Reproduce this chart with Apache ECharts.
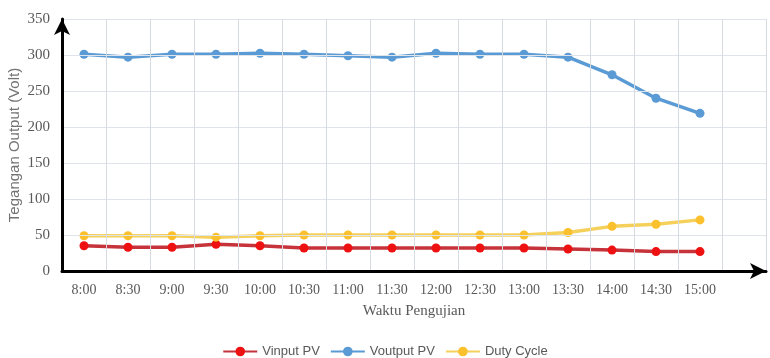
<!DOCTYPE html>
<html>
<head>
<meta charset="utf-8">
<script src="https://cdn.jsdelivr.net/npm/echarts@6/dist/echarts.min.js"></script>
<style>
  html, body { margin: 0; padding: 0; background: #fff; }
  #chart { width: 770px; height: 358px; }
</style>
</head>
<body>
<div id="chart"></div>
<script>
// Measurement times (the trailing blank slot leaves room before the arrow)
const times = ['8:00', '8:30', '9:00', '9:30', '10:00', '10:30', '11:00', '11:30',
               '12:00', '12:30', '13:00', '13:30', '14:00', '14:30', '15:00', ''];

// Measured values per time slot
const vinputPV = [35, 33, 33, 37, 35, 32, 32, 32, 32, 32, 32, 30.5, 29, 27, 27];
const voutputPV = [301, 297, 301, 301, 302.5, 301, 299, 297, 302.5, 301, 301, 297, 272.5, 240, 219];
const dutyCycle = [49, 49, 49, 47, 49, 50, 50, 50, 50, 50, 50, 53.5, 62, 65, 71];

// Y-axis range
const yMin = 0, yMax = 350, yStep = 50;

const textGray = '#595959';
const serif = '"Liberation Serif", "Times New Roman", serif';
const sans = '"Liberation Sans", Arial, sans-serif';

function lineSeries(name, data, lineColor, dotColor) {
  return {
    name: name,
    type: 'line',
    data: data,
    symbol: 'circle',
    symbolSize: 9,
    lineStyle: { width: 3.5, color: lineColor },
    itemStyle: { color: dotColor },
    color: dotColor,
    emphasis: { disabled: true },
    z: 3
  };
}

const chart = echarts.init(document.getElementById('chart'), null, { renderer: 'canvas' });
chart.setOption({
  animation: false,
  backgroundColor: '#ffffff',
  grid: { left: 62, right: 4, top: 19, bottom: 87, containLabel: false, outerBoundsMode: 'none' },
  legend: {
    top: 340,
    left: 'center',
    itemWidth: 34,
    itemHeight: 12,
    itemGap: 10,
    textStyle: { fontFamily: sans, fontSize: 13, color: textGray },
    data: ['Vinput PV', 'Voutput PV', 'Duty Cycle']
  },
  xAxis: {
    type: 'category',
    data: times,
    boundaryGap: true,
    name: 'Waktu Pengujian',
    nameLocation: 'middle',
    nameGap: 33,
    nameTextStyle: { fontFamily: serif, fontSize: 15, color: textGray },
    axisLine: {
      lineStyle: { color: '#000', width: 3 },
      symbol: ['none', 'arrow'],
      symbolSize: [12, 16],
      symbolOffset: [0, 0]
    },
    axisTick: { show: false },
    axisLabel: { margin: 12, fontFamily: serif, fontSize: 14, color: textGray, interval: 0 },
    splitLine: { show: true, interval: 0, lineStyle: { color: '#d6dae1', width: 1 } },
    z: 5
  },
  yAxis: {
    type: 'value',
    min: yMin,
    max: yMax,
    interval: yStep,
    name: 'Tegangan Output (Volt)',
    nameLocation: 'middle',
    nameGap: 40,
    nameRotate: 90,
    nameMoveOverlap: false,
    nameTextStyle: { fontFamily: sans, fontSize: 15, color: '#737373' },
    axisLine: {
      show: true,
      lineStyle: { color: '#000', width: 3 },
      symbol: ['none', 'arrow'],
      symbolSize: [12, 16],
      symbolOffset: [0, 0]
    },
    axisTick: { show: false },
    axisLabel: { margin: 12, fontFamily: serif, fontSize: 15, color: textGray },
    splitLine: { show: true, lineStyle: { color: '#dfe3ea', width: 1 } },
    z: 5
  },
  series: [
    lineSeries('Vinput PV', vinputPV, '#c6333a', '#ee1111'),
    lineSeries('Voutput PV', voutputPV, '#5b9bd5', '#5b9bd5'),
    lineSeries('Duty Cycle', dutyCycle, '#f5d05a', '#fbc02d')
  ]
});
</script>
</body>
</html>
